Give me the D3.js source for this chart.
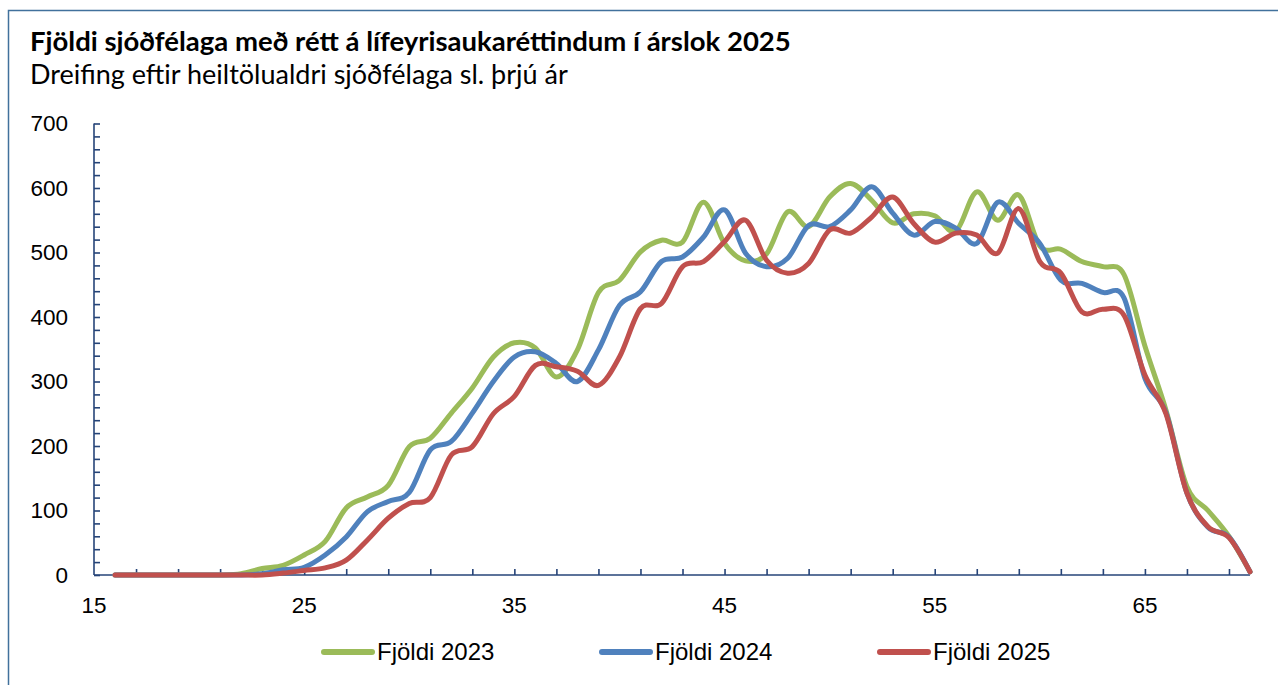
<!DOCTYPE html>
<html>
<head>
<meta charset="utf-8">
<script src="https://cdn.jsdelivr.net/npm/d3@7"></script>
<style>
  body { margin: 0; background: #fff; }
  svg { display: block; }
</style>
</head>
<body>
<svg id="chart" width="1278" height="685"></svg>
<script>
// Aldur sjóðfélaga (heiltölualdur)
const ages = [16, 17, 18, 19, 20, 21, 22, 23, 24, 25, 26, 27, 28, 29, 30, 31, 32, 33, 34, 35,
  36, 37, 38, 39, 40, 41, 42, 43, 44, 45, 46, 47, 48, 49, 50, 51, 52, 53, 54, 55,
  56, 57, 58, 59, 60, 61, 62, 63, 64, 65, 66, 67, 68, 69, 70];

const fjoldi2023 = [0, 0, 0, 0, 0, 0, 2, 10, 15, 31, 52, 104, 121, 139, 199, 212, 251, 290, 338, 360,
  352, 307, 349, 438, 457, 501, 519, 516, 578, 514, 487, 498, 563, 540, 586, 607, 581, 546, 560, 557,
  533, 594, 550, 589, 510, 505, 486, 478, 466, 355, 256, 137, 100, 60, 5];

const fjoldi2024 = [0, 0, 0, 0, 0, 0, 0, 2, 8, 12, 31, 59, 98, 114, 128, 194, 207, 251, 300, 338,
  346, 328, 300, 349, 418, 439, 486, 493, 524, 566, 499, 478, 491, 542, 540, 566, 602, 561, 527, 548,
  538, 514, 578, 545, 514, 457, 452, 438, 430, 305, 252, 127, 74, 59, 5];

const fjoldi2025 = [0, 0, 0, 0, 0, 0, 0, 0, 3, 7, 11, 23, 54, 88, 111, 120, 186, 199, 250, 277,
  325, 323, 316, 294, 338, 413, 421, 478, 486, 517, 550, 488, 468, 483, 535, 530, 555, 586, 545, 516,
  530, 527, 499, 568, 486, 468, 408, 412, 403, 310, 250, 127, 75, 58, 5];

const seriesNames = ["Fjöldi 2023", "Fjöldi 2024", "Fjöldi 2025"];
const seriesColors = ["#9BBB59", "#4F81BD", "#C0504D"];

const xLabels = [15, 25, 35, 45, 55, 65];
const yLabels = [0, 100, 200, 300, 400, 500, 600, 700];

const title = "Fjöldi sjóðfélaga með rétt á lífeyrisaukaréttindum í árslok 2025";
const subtitle = "Dreifing eftir heiltölualdri sjóðfélaga sl. þrjú ár";

/*
 * Setup
 */
const svg = d3.select("#chart");
const axisColor = "#264478";
const labelFont = "'Liberation Sans', Arial, sans-serif";
const titleFont = "Lato, 'Noto Sans', sans-serif";

const x = d3.scaleLinear().domain([15, 70]).range([94, 1250]);
const y = d3.scaleLinear().domain([0, 700]).range([575, 123.5]);

// chart frame
svg.append("rect")
  .attr("x", 8.5).attr("y", 10.5)
  .attr("width", 1300).attr("height", 700)
  .attr("fill", "none")
  .attr("stroke", "#41719C")
  .attr("stroke-width", 1.5);

svg.append("text")
  .attr("x", 30).attr("y", 51)
  .attr("font-family", titleFont)
  .attr("font-weight", "bold")
  .attr("font-size", 27.5)
  .attr("fill", "#000")
  .text(title);

svg.append("text")
  .attr("x", 30).attr("y", 84)
  .attr("font-family", titleFont)
  .attr("font-size", 27)
  .attr("fill", "#000")
  .text(subtitle);

/*
 * Axes
 */
const yAxis = d3.axisRight(y)
  .tickValues(d3.range(0, 701, 20))
  .tickSize(6)
  .tickFormat("");

svg.append("g")
  .attr("transform", `translate(${x(15)},0)`)
  .call(yAxis)
  .call(g => g.selectAll("line, path").attr("stroke", axisColor).attr("stroke-width", 1.6))
  .call(g => g.select(".domain").attr("d", `M0,${y(700)}V${y(0)}`));

const xAxis = d3.axisTop(x)
  .tickValues(d3.range(17, 70, 2))
  .tickSize(6)
  .tickFormat("");

svg.append("g")
  .attr("transform", `translate(0,${y(0)})`)
  .call(xAxis)
  .call(g => g.selectAll("line, path").attr("stroke", axisColor).attr("stroke-width", 1.6))
  .call(g => g.select(".domain").attr("d", `M${x(15)},0H${x(70)}`));

svg.append("g").selectAll("text")
  .data(yLabels)
  .join("text")
  .attr("x", 68)
  .attr("y", d => y(d))
  .attr("dy", "0.35em")
  .attr("text-anchor", "end")
  .attr("font-family", labelFont)
  .attr("font-size", 22.5)
  .attr("fill", "#000")
  .text(d => d);

svg.append("g").selectAll("text")
  .data(xLabels)
  .join("text")
  .attr("x", d => x(d))
  .attr("y", 613)
  .attr("text-anchor", "middle")
  .attr("font-family", labelFont)
  .attr("font-size", 22.5)
  .attr("fill", "#000")
  .text(d => d);

/*
 * Lines
 */
const allSeries = [fjoldi2023, fjoldi2024, fjoldi2025];

const line = d3.line()
  .x((d, i) => x(ages[i]))
  .y(d => y(d))
  .curve(d3.curveCatmullRom.alpha(0));

svg.append("g").selectAll("path")
  .data(allSeries)
  .join("path")
  .attr("d", d => line(d))
  .attr("fill", "none")
  .attr("stroke", (d, i) => seriesColors[i])
  .attr("stroke-width", 5)
  .attr("stroke-linejoin", "round")
  .attr("stroke-linecap", "round");

/*
 * Legend
 */
const legendX = [324, 602, 880];
const legend = svg.append("g").selectAll("g")
  .data(seriesNames)
  .join("g")
  .attr("transform", (d, i) => `translate(${legendX[i]},652)`);

legend.append("line")
  .attr("x1", 0).attr("x2", 48)
  .attr("stroke", (d, i) => seriesColors[i])
  .attr("stroke-width", 6)
  .attr("stroke-linecap", "round");

legend.append("text")
  .attr("x", 53)
  .attr("dy", "0.35em")
  .attr("font-family", labelFont)
  .attr("font-size", 24)
  .attr("fill", "#000")
  .text(d => d);
</script>
</body>
</html>
